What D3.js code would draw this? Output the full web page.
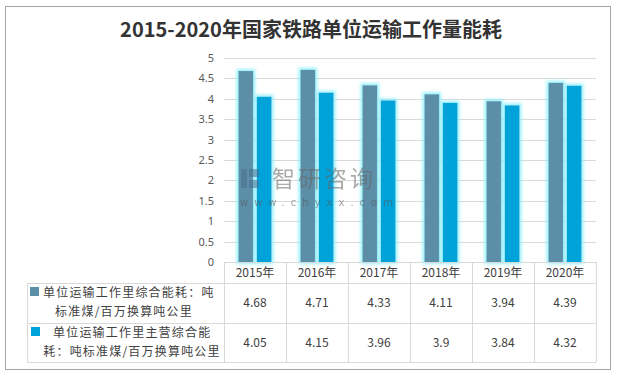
<html lang="zh">
<head>
<meta charset="utf-8">
<title>2015-2020年国家铁路单位运输工作量能耗</title>
<script src="https://cdn.jsdelivr.net/npm/d3@7"></script>
<style>
  body { margin: 0; background: #fff; }
  text { font-family: "Noto Sans CJK SC", "Noto Sans", sans-serif; }
</style>
</head>
<body>
<div id="chart"></div>
<script>
// データ
const years = ["2015年", "2016年", "2017年", "2018年", "2019年", "2020年"];
const totalEnergy = [4.68, 4.71, 4.33, 4.11, 3.94, 4.39];
const mainEnergy = [4.05, 4.15, 3.96, 3.9, 3.84, 4.32];
const seriesNames = [
  ["单位运输工作里综合能耗：吨", "标准煤/百万换算吨公里"],
  ["单位运输工作里主营综合能", "耗：吨标准煤/百万换算吨公里"]
];
const yTicks = [0, 0.5, 1, 1.5, 2, 2.5, 3, 3.5, 4, 4.5, 5];

const W = 620, H = 374;
const colors = ["#5b8fa7", "#00a2da"];
const grid = "#d9d9d9";
const plot = { left: 224, right: 596, top: 58, bottom: 262 };
const table = { left: 27, header: 283, row1: 323, row2: 362 };

const svg = d3.select("#chart").append("svg").attr("width", W).attr("height", H);

// 光る枠
const defs = svg.append("defs");
const glow = defs.append("filter").attr("id", "glow")
  .attr("x", "-50%").attr("y", "-20%").attr("width", "200%").attr("height", "140%");
glow.append("feMorphology").attr("in", "SourceAlpha").attr("operator", "dilate").attr("radius", 2).attr("result", "d");
glow.append("feGaussianBlur").attr("in", "d").attr("stdDeviation", 1.6).attr("result", "b");
glow.append("feFlood").attr("flood-color", "#8ff0fb").attr("flood-opacity", 0.9);
glow.append("feComposite").attr("in2", "b").attr("operator", "in").attr("result", "g");
const gm = glow.append("feMerge");
gm.append("feMergeNode").attr("in", "g");
gm.append("feMergeNode").attr("in", "SourceGraphic");

// 外枠
svg.append("rect").attr("x", 5.5).attr("y", 6.5).attr("width", 605).attr("height", 363)
  .attr("fill", "#fff").attr("stroke", "#a6a6a6").attr("stroke-width", 1);

// タイトル
svg.append("text").attr("x", 311).attr("y", 37).attr("text-anchor", "middle")
  .attr("font-size", "20px").attr("font-weight", "bold").attr("fill", "#333")
  .text("2015-2020年国家铁路单位运输工作量能耗");

const x0 = d3.scaleBand().domain(years).range([plot.left, plot.right]);
const x1 = d3.scaleBand().domain([0, 1]).range([14.5, 47.5]).paddingInner(0.2);
const y = d3.scaleLinear().domain([0, 5]).range([plot.bottom, plot.top]);

// グリッド
svg.append("g").selectAll("line").data(yTicks.slice(1)).join("line")
  .attr("x1", plot.left).attr("x2", plot.right)
  .attr("y1", d => Math.round(y(d)) + 0.5).attr("y2", d => Math.round(y(d)) + 0.5)
  .attr("stroke", grid);

// Y軸ラベル
const yAxis = svg.append("g").attr("transform", `translate(${plot.left - 6},0)`)
  .call(d3.axisLeft(y).tickValues(yTicks).tickFormat(d3.format("")).tickSize(0).tickPadding(4));
yAxis.select(".domain").remove();
yAxis.selectAll("text").attr("font-size", "11px").attr("fill", "#595959")
  .style("font-family", "'Noto Sans', sans-serif");

// 棒
const series = [totalEnergy, mainEnergy];
series.forEach((vals, s) => {
  svg.append("g").selectAll("rect").data(vals).join("rect")
    .attr("x", (d, i) => x0(years[i]) + x1(s))
    .attr("width", x1.bandwidth())
    .attr("y", d => y(d))
    .attr("height", d => y(0) - y(d))
    .attr("fill", colors[s])
    .attr("filter", "url(#glow)");
});

// 透かし (棒の上に重ねる)
const wm = svg.append("g").attr("opacity", 0.55);
wm.append("rect").attr("x", 241).attr("y", 169).attr("width", 6).attr("height", 19).attr("fill", "#4a6f90");
wm.append("rect").attr("x", 249).attr("y", 169).attr("width", 10).attr("height", 8).attr("fill", "#4a6f90");
wm.append("rect").attr("x", 249).attr("y", 180).attr("width", 10).attr("height", 8).attr("fill", "#4a6f90");
wm.append("text").attr("x", 272).attr("y", 187).attr("font-size", "23px").attr("fill", "#666")
  .attr("letter-spacing", "3px").text("智研咨询");
wm.append("text").attr("x", 240).attr("y", 206).attr("font-size", "10px").attr("fill", "#555")
  .attr("letter-spacing", "6px").style("font-family", "'DejaVu Sans', sans-serif").text("www.chyxx.com");

// 表
const t = svg.append("g");
const hl = (x1v, yv) => t.append("line").attr("x1", x1v).attr("x2", plot.right)
  .attr("y1", yv + 0.5).attr("y2", yv + 0.5).attr("stroke", grid);
hl(plot.left, plot.bottom);
hl(table.left, table.header);
hl(table.left, table.row1);
hl(table.left, table.row2);
t.append("line").attr("x1", table.left + 0.5).attr("x2", table.left + 0.5)
  .attr("y1", table.header).attr("y2", table.row2).attr("stroke", grid);
years.concat(["end"]).forEach((yr, i) => {
  const xv = Math.round(plot.left + i * x0.bandwidth()) + 0.5;
  t.append("line").attr("x1", xv).attr("x2", xv)
    .attr("y1", plot.bottom).attr("y2", table.row2).attr("stroke", grid);
});

// 年ラベル
t.selectAll("text.yr").data(years).join("text").attr("class", "yr")
  .attr("x", d => x0(d) + x0.bandwidth() / 2).attr("y", 277)
  .attr("text-anchor", "middle").attr("font-size", "12px").attr("fill", "#404040").text(d => d);

// 値
const rowY = [307, 347];
series.forEach((vals, s) => {
  t.append("g").selectAll("text").data(vals).join("text")
    .attr("x", (d, i) => x0(years[i]) + x0.bandwidth() / 2).attr("y", rowY[s])
    .attr("text-anchor", "middle").attr("font-size", "12px").attr("fill", "#404040").text(d => d);
});

// 凡例
const legend = [
  { sq: 30, lines: [[43, 297, "start"], [124, 316, "middle"]] },
  { sq: 31, lines: [[53, 337, "start"], [132, 356, "middle"]] }
];
legend.forEach((lg, s) => {
  t.append("rect").attr("x", lg.sq).attr("y", lg.lines[0][1] - 10).attr("width", 9).attr("height", 9)
    .attr("fill", colors[s]);
  lg.lines.forEach((ln, k) => {
    t.append("text").attr("x", ln[0]).attr("y", ln[1]).attr("text-anchor", ln[2])
      .attr("font-size", "12px").attr("letter-spacing", "1.2px").attr("fill", "#404040")
      .text(seriesNames[s][k]);
  });
});
</script>
</body>
</html>
